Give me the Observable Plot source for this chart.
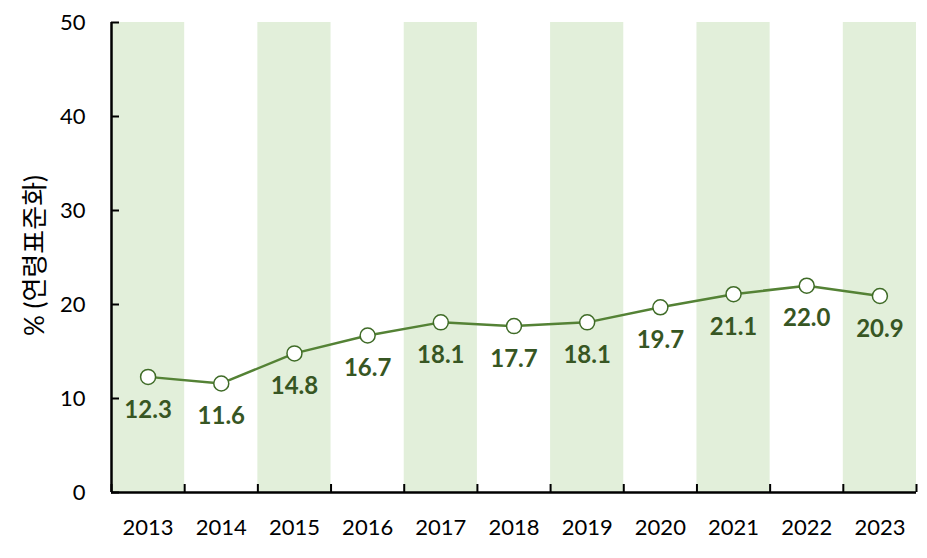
<!DOCTYPE html>
<html>
<head>
<meta charset="utf-8">
<script src="https://cdn.jsdelivr.net/npm/d3@7"></script>
<script src="https://cdn.jsdelivr.net/npm/@observablehq/plot@0.6"></script>
<style>
  html, body { margin: 0; padding: 0; background: #fff; }
  #chart svg { display: block; }
</style>
</head>
<body>
<div id="chart"></div>
<script>
const years = [2013, 2014, 2015, 2016, 2017, 2018, 2019, 2020, 2021, 2022, 2023];
const values = [12.3, 11.6, 14.8, 16.7, 18.1, 17.7, 18.1, 19.7, 21.1, 22.0, 20.9];
const yTicks = [0, 10, 20, 30, 40, 50];
const shadedYears = [2013, 2015, 2017, 2019, 2021, 2023];
const yTitle = "% (연령표준화)";

const data = years.map((y, i) => ({year: y, value: values[i]}));
const bands = shadedYears.map(y => ({x1: y - 0.5, x2: y + 0.5}));
const boundaries = years.map(y => y - 0.5).concat([years[years.length - 1] + 0.5]);

const font = "Lato, 'Noto Sans CJK KR', sans-serif";

const chart = Plot.plot({
  width: 927,
  height: 558,
  marginLeft: 111,
  marginRight: 11,
  marginTop: 22,
  marginBottom: 66,
  style: {fontFamily: font, fontSize: "22px", color: "#000", background: "#fff"},
  x: {domain: [2012.5, 2023.5]},
  y: {domain: [0, 50]},
  marks: [
    Plot.rectY(bands, {x1: "x1", x2: "x2", y1: 0, y2: 50, fill: "#E2EFDA"}),
    Plot.axisX({ticks: boundaries, tickSize: -8, tickFormat: () => "", stroke: "#000", strokeWidth: 2}),
    Plot.axisX({ticks: years, tickSize: 0, tickPadding: 27, tickFormat: d => String(d), fontSize: 22, fill: "#000"}),
    Plot.axisY({ticks: yTicks, tickSize: -8, tickPadding: 34, tickFormat: d => String(d), fontSize: 22, fill: "#000", stroke: "#000", strokeWidth: 2, label: null}),
    Plot.ruleY([0], {stroke: "#000", strokeWidth: 2.5}),
    Plot.ruleX([2012.5], {stroke: "#000", strokeWidth: 2.5}),
    Plot.line(data, {x: "year", y: "value", stroke: "#548235", strokeWidth: 2.5}),
    Plot.dot(data, {x: "year", y: "value", r: 7.5, fill: "#fff", stroke: "#3F6B27", strokeWidth: 1.5}),
    Plot.text(data, {x: "year", y: "value", text: d => d.value.toFixed(1), dy: 33, fill: "#375623", fontWeight: "bold", fontSize: 24}),
    Plot.text([yTitle], {frameAnchor: "left", textAnchor: "middle", dx: -76, dy: -2, rotate: -90, text: d => d, fontSize: 26, fill: "#000"})
  ]
});
document.getElementById("chart").appendChild(chart);
</script>
</body>
</html>
